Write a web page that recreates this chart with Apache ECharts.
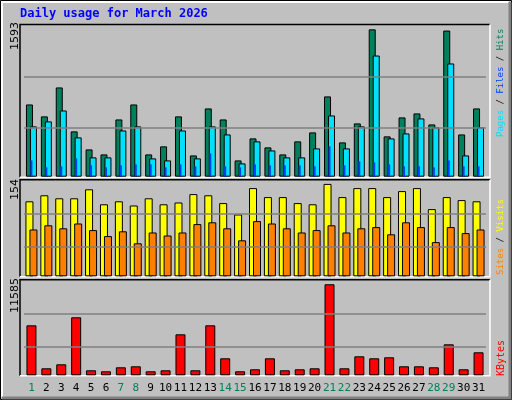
<!DOCTYPE html>
<html><head><meta charset="utf-8">
<script src="https://cdn.jsdelivr.net/npm/echarts@6/dist/echarts.min.js"></script>
<style>html,body{margin:0;padding:0;background:#C0C0C0}#c{width:512px;height:400px}</style>
</head><body><div id="c"></div>
<script>
const days = ['1','2','3','4','5','6','7','8','9','10','11','12','13','14','15','16','17','18','19','20','21','22','23','24','25','26','27','28','29','30','31'];
const weekend = ['1','7','8','14','15','21','22','28','29'];
const hits  = [781,652,965,490,295,241,619,781,241,328,652,230,738,619,176,414,317,241,382,479,868,371,576,1593,436,641,684,565,1580,457,738];
const files = [544,598,716,425,209,209,500,544,198,176,500,198,544,457,144,382,284,209,209,306,662,306,544,1310,414,468,630,533,1224,230,533];
const pages = [176,101,112,198,122,101,122,133,133,101,133,112,252,112,101,133,122,122,122,112,328,122,166,155,133,112,112,101,176,112,112];
const sites = [125,135,130,130,145,120,125,118,130,120,123,137,135,122,103,147,132,132,122,120,154,132,147,147,132,142,147,112,132,127,125];
const visits= [78,85,80,88,77,67,75,55,73,68,73,87,90,80,60,92,88,80,73,77,85,73,80,82,70,90,82,57,82,72,78];
const kbytes= [6360,890,1400,7380,636,509,1018,1145,509,636,5215,636,6360,2162,509,763,2162,636,763,890,11585,890,2417,2162,2290,1145,1145,1018,3943,763,2926];
const maxLabels = ['1593','154','11585'];

const grids=[{left:24,width:462,top:25,height:151.7},{left:24,width:462,top:180.3,height:96},{left:24,width:462,top:280.3,height:95}];
const ymax=[1640,160,12090];
const gl=[[533,1084],[50,105],[3689,7886]];
function xa(i,show){return {type:'category',data:days,gridIndex:i,axisLine:{show:false},axisTick:{show:false},
  axisLabel:{show:show,margin:7,fontFamily:'DejaVu Sans Mono',fontSize:11,interval:0,
   color:(v)=>weekend.includes(v)?'#00805C':'#000'}};}
function ya(i,g){return {type:'value',gridIndex:g,min:0,max:ymax[i],show:false,splitLine:{show:false}};}
const ml=(i)=>({silent:true,symbol:'none',label:{show:false},lineStyle:{color:'#808080',type:'solid',width:1.5},data:gl[i].map(v=>({yAxis:v}))});
const bs=(c)=>({color:c,borderColor:'#000',borderWidth:1});
const mono='"DejaVu Sans Mono"';
const option={animation:false,backgroundColor:'#C0C0C0',
 grid:grids,
 xAxis:[xa(0,false),xa(0,false),xa(1,false),xa(2,true)],
 yAxis:[ya(0,0),ya(0,0),ya(1,1),ya(2,2)],
 series:[
  {type:'bar',name:'Hits',xAxisIndex:0,yAxisIndex:0,data:hits,barWidth:7,barGap:'-43%',itemStyle:bs('#00805C'),markLine:ml(0),z:2},
  {type:'bar',name:'Files',xAxisIndex:0,yAxisIndex:0,data:files,barWidth:7,barGap:'-43%',itemStyle:bs('#00E0FF'),z:3},
  {type:'bar',name:'Pages',xAxisIndex:1,yAxisIndex:1,data:pages,barWidth:2,itemStyle:{color:'#0040FF'},z:5},
  {type:'bar',name:'Sites',xAxisIndex:2,yAxisIndex:2,data:sites,barWidth:8,barGap:'-50%',itemStyle:bs('#FFFF00'),markLine:ml(1)},
  {type:'bar',name:'Visits',xAxisIndex:2,yAxisIndex:2,data:visits,barWidth:8,barGap:'-50%',itemStyle:bs('#FF8000')},
  {type:'bar',name:'KBytes',xAxisIndex:3,yAxisIndex:3,data:kbytes,barWidth:10,itemStyle:bs('#FF0000'),markLine:ml(2)}
 ],
 graphic:[
  {type:'rect',shape:{x:0.5,y:0.5,width:511,height:399},style:{fill:'none',stroke:'#000',lineWidth:1},silent:true},
  {type:'polyline',shape:{points:[[2,397],[2,2],[509,2]]},style:{stroke:'#fff',lineWidth:2,fill:'none'}},
  {type:'polyline',shape:{points:[[510,2],[510,398],[2,398]]},style:{stroke:'#808080',lineWidth:3,fill:'none'}},
  ...grids.map(g=>({type:'group',children:[
    {type:'polyline',shape:{points:[[20,g.top+g.height+0.5],[20,g.top-0.5],[490,g.top-0.5]]},style:{stroke:'#000',lineWidth:1.5,fill:'none'}},
    {type:'polyline',shape:{points:[[490,g.top-0.5],[490,g.top+g.height+0.5],[20,g.top+g.height+0.5]]},style:{stroke:'#fff',lineWidth:1.5,fill:'none'}}
  ]})),
  {type:'text',left:20,top:8,style:{text:'Daily usage for March 2026',fill:'#0000FF',font:'bold 12px '+mono}},
  {type:'text',x:15,y:50,rotation:Math.PI/2,style:{text:maxLabels[0],fill:'#000',font:'11px "DejaVu Sans"',align:'left',verticalAlign:'middle'}},
  {type:'text',x:15,y:200,rotation:Math.PI/2,style:{text:maxLabels[1],fill:'#000',font:'11px "DejaVu Sans"',align:'left',verticalAlign:'middle'}},
  {type:'text',x:15,y:313,rotation:Math.PI/2,style:{text:maxLabels[2],fill:'#000',font:'11px "DejaVu Sans"',align:'left',verticalAlign:'middle'}},
  {type:'text',x:501,y:137,rotation:Math.PI/2,style:{text:'{p|Pages}{s| / }{f|Files}{s| / }{h|Hits}',align:'left',verticalAlign:'middle',
    rich:{p:{fill:'#00E0FF',font:'9px '+mono},f:{fill:'#0040FF',font:'9px '+mono},h:{fill:'#00805C',font:'9px '+mono},s:{fill:'#000',font:'9px '+mono}}}},
  {type:'text',x:501,y:275,rotation:Math.PI/2,style:{text:'{a|Sites}{s| / }{b|Visits}',align:'left',verticalAlign:'middle',
    rich:{a:{fill:'#FF8000',font:'9px '+mono},b:{fill:'#FFFF00',font:'9px '+mono},s:{fill:'#000',font:'9px '+mono}}}},
  {type:'text',x:501,y:376,rotation:Math.PI/2,style:{text:'KBytes',fill:'#FF0000',font:'10px '+mono,align:'left',verticalAlign:'middle'}}
 ]};
echarts.init(document.getElementById('c')).setOption(option);
</script></body></html>
